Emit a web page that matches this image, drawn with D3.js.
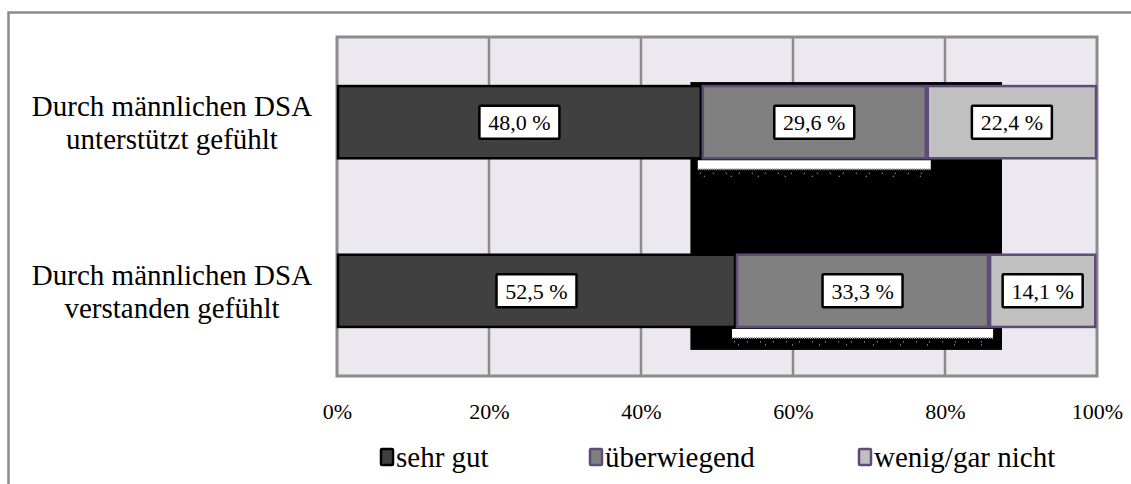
<!DOCTYPE html>
<html>
<head>
<meta charset="utf-8">
<script src="https://cdn.jsdelivr.net/npm/d3@7"></script>
<style>
  html, body { margin: 0; padding: 0; background: #ffffff; }
</style>
</head>
<body>
<svg id="chart" width="1131" height="484"></svg>
<script>
// Category labels (two lines each)
const categories = [
  ["Durch männlichen DSA", "unterstützt gefühlt"],
  ["Durch männlichen DSA", "verstanden gefühlt"]
];
const seriesNames = ["sehr gut", "überwiegend", "wenig/gar nicht"];
// Percent shares per category, in series order
const sehrGut = [48.0, 52.5];
const ueberwiegend = [29.6, 33.3];
const wenigGarNicht = [22.4, 14.1];
const tickValues = [0, 20, 40, 60, 80, 100];
// Dark backdrop panel spanning both rows (percent range)
const backdropRange = [46.5, 87.5];

const colors = ["#404040", "#808080", "#c0c0c0"];
const strokes = ["#000000", "#604a7b", "#604a7b"];
const FONT = '"Liberation Serif"';

const svg = d3.select("#chart").style("font-family", FONT);
const W = 1131, H = 484;
const plot = { left: 337, right: 1097, top: 37, bottom: 376 };

// Outer chart frame
svg.append("rect")
  .attr("x", 8.5).attr("y", 12.5)
  .attr("width", W + 20).attr("height", H + 20)
  .attr("fill", "#ffffff").attr("stroke", "#8a8a8a").attr("stroke-width", 2.5);

const x = d3.scaleLinear().domain([0, 100]).range([plot.left, plot.right]);
const keys = categories.map((c, i) => i);
const y = d3.scaleBand().domain(keys).range([plot.top, plot.bottom])
  .paddingInner(0.56).paddingOuter(0.285);

// Plot area
svg.append("rect")
  .attr("x", plot.left).attr("y", plot.top)
  .attr("width", plot.right - plot.left).attr("height", plot.bottom - plot.top)
  .attr("fill", "#ebe9ef");

// Vertical gridlines
svg.append("g").selectAll("line")
  .data(tickValues.slice(1, -1))
  .join("line")
  .attr("x1", d => x(d)).attr("x2", d => x(d))
  .attr("y1", plot.top).attr("y2", plot.bottom)
  .attr("stroke", "#8c8c8c").attr("stroke-width", 2.5);

// Plot frame
svg.append("rect")
  .attr("x", plot.left).attr("y", plot.top)
  .attr("width", plot.right - plot.left).attr("height", plot.bottom - plot.top)
  .attr("fill", "none").attr("stroke", "#8c8c8c").attr("stroke-width", 3);

// Backdrop panel
svg.append("rect")
  .attr("x", x(backdropRange[0])).attr("y", y(0) - 3)
  .attr("width", x(backdropRange[1]) - x(backdropRange[0]))
  .attr("height", (y(1) + y.bandwidth() + 22) - (y(0) - 3))
  .attr("fill", "#000000");

// Stack the series
const rows = keys.map(i => ({ i, v: [sehrGut[i], ueberwiegend[i], wenigGarNicht[i]] }));
const segs = [];
rows.forEach(r => {
  let acc = 0;
  r.v.forEach((v, s) => {
    segs.push({ row: r.i, s, x0: acc, x1: acc + v, v });
    acc += v;
  });
});

// Light strip under the middle segment
const strips = segs.filter(d => d.s === 1);
const stripG = svg.append("g");
strips.forEach(d => {
  const y0 = y(d.row) + y.bandwidth() + 1;
  const xa = x(d.x0) - 4, xb = x(d.x1) + 4;
  stripG.append("rect")
    .attr("x", xa).attr("y", y0).attr("width", xb - xa).attr("height", 9)
    .attr("fill", "#ffffff");
  stripG.append("line")
    .attr("x1", xa).attr("x2", xb).attr("y1", y0 + 9).attr("y2", y0 + 9)
    .attr("stroke", "#9a9a9a").attr("stroke-width", 2).attr("stroke-dasharray", "1,1");
  stripG.append("line")
    .attr("x1", xa + 2).attr("x2", xb).attr("y1", y0 + 13).attr("y2", y0 + 13)
    .attr("stroke", "#cfcfcf").attr("stroke-width", 1).attr("stroke-dasharray", "1,12");
  stripG.append("line")
    .attr("x1", xa + 6).attr("x2", xb).attr("y1", y0 + 16).attr("y2", y0 + 16)
    .attr("stroke", "#cfcfcf").attr("stroke-width", 1).attr("stroke-dasharray", "1,26");
});

// Bars
svg.append("g").selectAll("rect")
  .data(segs)
  .join("rect")
  .attr("x", d => x(d.x0) + 1)
  .attr("y", d => y(d.row) + 1)
  .attr("width", d => x(d.x1) - x(d.x0) - 2)
  .attr("height", y.bandwidth() - 2)
  .attr("fill", d => colors[d.s])
  .attr("stroke", d => strokes[d.s])
  .attr("stroke-width", 2.5);

// Value labels in boxes
const fmt = v => v.toFixed(1).replace(".", ",") + " %";
const lab = svg.append("g").selectAll("g")
  .data(segs)
  .join("g")
  .attr("transform", d => `translate(${x((d.x0 + d.x1) / 2)},${y(d.row) + y.bandwidth() / 2})`);
lab.append("rect")
  .attr("x", -40).attr("y", -16.5).attr("width", 80).attr("height", 33)
  .attr("fill", "#ffffff").attr("stroke", "#000000").attr("stroke-width", 2.5).attr("rx", 1);
lab.append("text")
  .attr("text-anchor", "middle").attr("dy", "0.35em")
  .style("font-family", FONT)
  .attr("font-size", 22).attr("fill", "#000")
  .text(d => fmt(d.v));

// Category labels
const cat = svg.append("g").selectAll("text")
  .data(keys)
  .join("text")
  .attr("x", 172)
  .attr("y", i => y(i) + y.bandwidth() / 2)
  .attr("text-anchor", "middle")
  .style("font-family", FONT)
  .attr("font-size", 29)
  .attr("fill", "#000");
cat.append("tspan").attr("x", 172).attr("dy", "-0.2em").text(i => categories[i][0]);
cat.append("tspan").attr("x", 172).attr("dy", "1.14em").text(i => categories[i][1]);

// Bottom axis
const axis = svg.append("g")
  .attr("transform", `translate(0,${plot.bottom})`)
  .call(d3.axisBottom(x).tickValues(tickValues).tickFormat(d => d + "%").tickSize(0).tickPadding(27));
axis.style("font-family", FONT);
axis.select(".domain").remove();
axis.selectAll("text")
  .style("font-family", FONT)
  .attr("font-size", 22).attr("fill", "#000");

// Legend
const legendX = [376, 585, 854];
const leg = svg.append("g").selectAll("g")
  .data(seriesNames)
  .join("g")
  .attr("transform", (d, i) => `translate(${legendX[i]},457)`);
leg.append("rect")
  .attr("x", 5).attr("y", -8).attr("width", 12).attr("height", 16)
  .attr("fill", (d, i) => colors[i])
  .attr("stroke", (d, i) => strokes[i]).attr("stroke-width", 2.5).attr("rx", 1);
leg.append("text")
  .attr("x", 20).attr("dy", "0.33em")
  .style("font-family", FONT)
  .attr("font-size", 29)
  .attr("fill", "#000")
  .text(d => d);
</script>
</body>
</html>
